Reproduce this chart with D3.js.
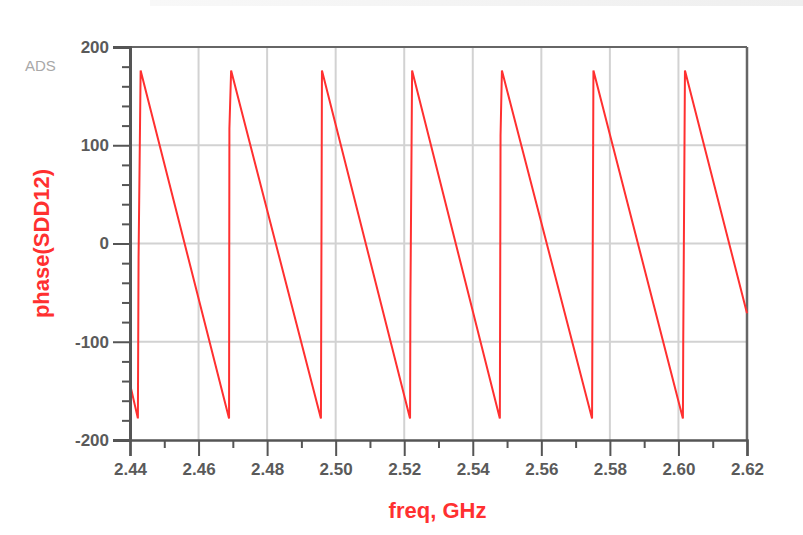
<!DOCTYPE html>
<html>
<head>
<meta charset="utf-8">
<script src="https://cdn.jsdelivr.net/npm/d3@7/dist/d3.min.js"></script>
<style>
  html, body { margin: 0; padding: 0; background: #fff; }
  svg { display: block; }
</style>
</head>
<body>
<svg id="chart" width="803" height="535"></svg>
<script>
// Phase of SDD12 versus frequency (GHz), vertices of the wrapped trace
const freqGHz = [
  2.4400, 2.4423, 2.4425, 2.4431,
  2.4689, 2.4690, 2.4695,
  2.4957, 2.4960,
  2.5217, 2.5218, 2.5223,
  2.5479, 2.5481, 2.5485,
  2.5748, 2.5752,
  2.6013, 2.6014, 2.6019,
  2.6200
];
const phaseDeg = [
  -143, -178, -14, 176,
  -178, 117, 176,
  -178, 176,
  -178, -61, 176,
  -178, 110, 176,
  -178, 176,
  -178, -100, 176,
  -71
];

const xTicks = [2.44, 2.46, 2.48, 2.50, 2.52, 2.54, 2.56, 2.58, 2.60, 2.62];
const xMinorTicks = [2.45, 2.47, 2.49, 2.51, 2.53, 2.55, 2.57, 2.59, 2.61];
const yTicks = [-200, -100, 0, 100, 200];
const yMinorTicks = [-180, -160, -140, -120, -80, -60, -40, -20, 20, 40, 60, 80, 120, 140, 160, 180];

const xLabel = "freq, GHz";
const yLabel = "phase(SDD12)";
const brand = "ADS";

const svg = d3.select("#chart");
const W = 803, H = 535;
const plot = { left: 130, top: 47, right: 747, bottom: 440 };
const font = "Liberation Sans, Arial, sans-serif";

// faint band along the top edge
const band = svg.append("defs").append("linearGradient").attr("id", "band");
band.append("stop").attr("offset", "0%").attr("stop-color", "#f8f8f8");
band.append("stop").attr("offset", "100%").attr("stop-color", "#efefef");
svg.append("rect")
  .attr("x", 150).attr("y", 0).attr("width", W - 150).attr("height", 6)
  .attr("fill", "url(#band)");

const x = d3.scaleLinear().domain([2.44, 2.62]).range([plot.left, plot.right]);
const y = d3.scaleLinear().domain([-200, 200]).range([plot.bottom, plot.top]);

const gridColor = "#d2d2d2";
const axisColor = "#555";
const labelColor = "#5a5a5a";

// grid
const grid = svg.append("g");
grid.selectAll("line.vg").data(xTicks.slice(1, -1)).join("line")
  .attr("x1", d => x(d)).attr("x2", d => x(d))
  .attr("y1", plot.top).attr("y2", plot.bottom)
  .attr("stroke", gridColor).attr("stroke-width", 2);
grid.selectAll("line.hg").data(yTicks.slice(1, -1)).join("line")
  .attr("x1", plot.left).attr("x2", plot.right)
  .attr("y1", d => y(d)).attr("y2", d => y(d))
  .attr("stroke", gridColor).attr("stroke-width", 2);

// frame: top and right
svg.append("line")
  .attr("x1", plot.left).attr("x2", plot.right)
  .attr("y1", plot.top).attr("y2", plot.top)
  .attr("stroke", "#666").attr("stroke-width", 2);
svg.append("line")
  .attr("x1", plot.right).attr("x2", plot.right)
  .attr("y1", plot.top).attr("y2", plot.bottom)
  .attr("stroke", "#666").attr("stroke-width", 2.5);

// trace
const line = d3.line().x((d, i) => x(freqGHz[i])).y(d => y(d));
svg.append("path")
  .datum(phaseDeg)
  .attr("d", line)
  .attr("fill", "none")
  .attr("stroke", "#ff3030")
  .attr("stroke-width", 2)
  .attr("stroke-linejoin", "miter");

// x axis
const xAxis = d3.axisBottom(x).tickValues(xTicks).tickFormat(d3.format(".2f"))
  .tickSize(16).tickPadding(7);
const gx = svg.append("g").attr("transform", `translate(0,${plot.bottom})`).call(xAxis);
gx.select(".domain").attr("stroke", axisColor).attr("stroke-width", 2.5);
gx.selectAll(".tick line").attr("stroke", axisColor).attr("stroke-width", 2);
gx.selectAll(".tick text")
  .attr("fill", labelColor).attr("font-family", font)
  .attr("font-size", 17).attr("font-weight", "bold");
const gxm = svg.append("g").attr("transform", `translate(0,${plot.bottom})`)
  .call(d3.axisBottom(x).tickValues(xMinorTicks).tickSize(8).tickFormat(""));
gxm.select(".domain").remove();
gxm.selectAll(".tick line").attr("stroke", axisColor).attr("stroke-width", 2);

// y axis (plain hyphen for negatives)
const yAxis = d3.axisLeft(y).tickValues(yTicks).tickFormat(d => String(d))
  .tickSize(17).tickPadding(4);
const gy = svg.append("g").attr("transform", `translate(${plot.left},0)`).call(yAxis);
gy.select(".domain").attr("stroke", axisColor).attr("stroke-width", 3);
gy.selectAll(".tick line").attr("stroke", axisColor).attr("stroke-width", 2);
gy.selectAll(".tick text")
  .attr("fill", labelColor).attr("font-family", font)
  .attr("font-size", 17).attr("font-weight", "bold");
const gym = svg.append("g").attr("transform", `translate(${plot.left},0)`)
  .call(d3.axisLeft(y).tickValues(yMinorTicks).tickSize(8).tickFormat(""));
gym.select(".domain").remove();
gym.selectAll(".tick line").attr("stroke", axisColor).attr("stroke-width", 2);

// titles
svg.append("text")
  .attr("x", (plot.left + plot.right) / 2 - 1).attr("y", 518)
  .attr("text-anchor", "middle")
  .attr("fill", "#ff3030")
  .attr("font-family", font)
  .attr("font-size", 22).attr("font-weight", "bold")
  .text(xLabel);

svg.append("text")
  .attr("transform", `translate(49,${(plot.top + plot.bottom) / 2}) rotate(-90)`)
  .attr("text-anchor", "middle")
  .attr("fill", "#ff3030")
  .attr("font-family", font)
  .attr("font-size", 22).attr("font-weight", "bold")
  .text(yLabel);

svg.append("text")
  .attr("x", 25).attr("y", 71)
  .attr("fill", "#a8a8a8")
  .attr("font-family", font)
  .attr("font-size", 15)
  .text(brand);
</script>
</body>
</html>
